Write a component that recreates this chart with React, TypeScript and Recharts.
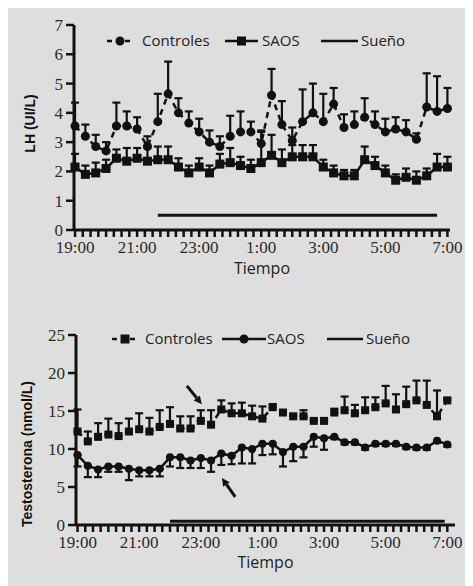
import React from "react";
import { LineChart, Line, XAxis, YAxis, ErrorBar, Legend, ReferenceLine } from "recharts";

// minutes after 19:00, one sample every 20 min
const times = [0, 20, 40, 60, 80, 100, 120, 140, 160, 180, 200, 220, 240, 260, 280, 300, 320, 340, 360, 380, 400, 420, 440, 460, 480, 500, 520, 540, 560, 580, 600, 620, 640, 660, 680, 700, 720];

const minorTicks = [0, 15, 30, 45, 60, 75, 90, 105, 120, 135, 150, 165, 180, 195, 210, 225, 240, 255, 270, 285, 300, 315, 330, 345, 360, 375, 390, 405, 420, 435, 450, 465, 480, 495, 510, 525, 540, 555, 570, 585, 600, 615, 630, 645, 660, 675, 690, 705, 720];
const labelTicks = [0, 120, 240, 360, 480, 600, 720];
const tickLabels = ["19:00", "21:00", "23:00", "1:00", "3:00", "5:00", "7:00"];

const lhTicks = [0, 1, 2, 3, 4, 5, 6, 7];
const testoTicks = [0, 5, 10, 15, 20, 25];

const lhControles = [3.55, 3.2, 2.85, 2.7, 3.55, 3.55, 3.45, 2.85, 3.7, 4.65, 4.0, 3.65, 3.35, 3.0, 2.85, 3.2, 3.35, 3.35, 2.95, 4.6, 3.6, 3.05, 3.7, 4.0, 3.7, 4.3, 3.5, 3.6, 3.85, 3.6, 3.35, 3.45, 3.35, 3.1, 4.2, 4.05, 4.15];
const lhControlesErr = [0.8, 0.4, 0.4, 0.3, 0.8, 0.5, 0.4, 0.35, 0.95, 1.1, 0.5, 0.4, 0.45, 0.4, 0.35, 0.7, 0.7, 0.35, 0.4, 0.9, 0.8, 0.45, 1.1, 1.0, 0.95, 0.55, 0.45, 0.45, 0.65, 0.45, 0.45, 0.4, 0.4, 0.2, 1.15, 1.2, 0.7];
const lhSaos = [2.15, 1.9, 1.95, 2.1, 2.45, 2.35, 2.45, 2.35, 2.4, 2.4, 2.15, 1.95, 2.15, 1.95, 2.25, 2.3, 2.2, 2.1, 2.3, 2.55, 2.3, 2.5, 2.5, 2.5, 2.15, 1.95, 1.85, 1.85, 2.4, 2.2, 1.95, 1.7, 1.8, 1.7, 1.85, 2.15, 2.15];
const lhSaosErr = [0.45, 0.3, 0.35, 0.3, 0.3, 0.45, 0.35, 0.45, 0.45, 0.45, 0.3, 0.25, 0.3, 0.25, 0.35, 0.5, 0.3, 0.3, 1.1, 0.7, 0.45, 0.4, 0.4, 0.4, 0.25, 0.25, 0.2, 0.2, 0.45, 0.3, 0.25, 0.2, 0.3, 0.3, 0.25, 0.45, 0.35];

const testoControles = [12.3, 11.0, 11.6, 11.9, 11.7, 12.3, 12.6, 12.3, 12.9, 13.3, 12.7, 12.7, 13.7, 13.2, 15.2, 14.7, 14.7, 14.3, 14.0, 15.5, 14.8, 14.3, 14.3, 13.7, 13.7, 14.8, 15.1, 14.7, 15.1, 15.5, 16.0, 15.2, 15.9, 16.4, 15.8, 14.3, 16.4];
const testoControlesErr = [2.9, 1.3, 1.8, 2.1, 1.7, 1.7, 2.1, 1.8, 2.2, 2.2, 1.6, 1.6, 1.4, 1.9, 1.2, 1.3, 1.4, 1.4, 1.6, 0.4, 0.3, 0.3, 0.8, 0.3, 0.3, 0.5, 1.8, 1.1, 1.7, 1.3, 2.3, 2.0, 2.3, 2.6, 3.2, 3.4, 0.3];
const testoSaos = [9.2, 7.8, 7.3, 7.7, 7.7, 7.4, 7.2, 7.2, 7.4, 8.9, 8.9, 8.5, 8.8, 8.5, 9.4, 9.1, 10.2, 10.0, 10.7, 10.7, 9.6, 10.3, 10.3, 11.6, 11.4, 11.6, 10.9, 10.9, 10.2, 10.7, 10.7, 10.7, 10.3, 10.2, 10.2, 11.1, 10.6];
const testoSaosErr = [1.5, 1.5, 1.0, 0.7, 0.7, 1.5, 0.8, 0.8, 1.0, 1.2, 1.4, 1.0, 1.3, 1.5, 1.5, 1.1, 2.1, 1.9, 1.5, 1.4, 1.9, 1.9, 1.4, 1.3, 1.5, 0.3, 0.3, 0.3, 0.3, 0.3, 0.3, 0.3, 0.3, 0.3, 0.3, 0.3, 0.3];

// sleep period bar
const suenoLh = [{ t: 160, y: 0.5 }, { t: 700, y: 0.5 }];
const suenoTesto = [{ t: 180, y: 0.5 }, { t: 715, y: 0.5 }];

// arrows in testosterone panel: [tail, head]
const arrowCtrl = [{ x: 213, y: 18.3 }, { x: 242, y: 15.9 }];
const arrowSaos = [{ x: 307, y: 3.7 }, { x: 281, y: 6.2 }];

const lhRows = times.map((t, i) => ({
  t,
  ctrl: lhControles[i],
  ctrlErr: [0, lhControlesErr[i]],
  saos: lhSaos[i],
  saosErr: [0, lhSaosErr[i]],
}));

const testoRows = times.map((t, i) => ({
  t,
  ctrl: testoControles[i],
  ctrlErr: [0, testoControlesErr[i]],
  saos: testoSaos[i],
  saosErr: [testoSaosErr[i], 0],
}));

const SANS = "'Open Sans', sans-serif";
const SERIF = "'Liberation Serif', serif";
const INK = "#111";
const BG = "#dedede";

const fmtTime = (t: number) => {
  const i = labelTicks.indexOf(t);
  return i >= 0 ? tickLabels[i] : "";
};

const circleDot = (r: number) => (p: any) =>
  p.cx == null ? null : <circle key={`c${p.index}`} cx={p.cx} cy={p.cy} r={r} fill={INK} />;

const squareDot = (s: number) => (p: any) =>
  p.cx == null ? null : (
    <rect key={`s${p.index}`} x={p.cx - s / 2} y={p.cy - s / 2} width={s} height={s} fill={INK} />
  );

const Arrow = (p: any) => {
  const { x1, y1, x2, y2 } = p;
  const a = Math.atan2(y2 - y1, x2 - x1);
  const L = 8;
  const W = 4;
  const bx = x2 - L * Math.cos(a);
  const by = y2 - L * Math.sin(a);
  const pts = [
    `${x2},${y2}`,
    `${bx + W * Math.sin(a)},${by - W * Math.cos(a)}`,
    `${bx - W * Math.sin(a)},${by + W * Math.cos(a)}`,
  ].join(" ");
  return (
    <g>
      <line x1={x1} y1={y1} x2={bx} y2={by} stroke={INK} strokeWidth={3} />
      <polygon points={pts} fill={INK} />
    </g>
  );
};

const Marker = ({ kind, dashed, w }: { kind: string; dashed: boolean; w: number }) => (
  <svg width={w} height={14} style={{ display: "block" }}>
    <line x1={0} y1={7} x2={w} y2={7} stroke={INK} strokeWidth={2.5} strokeDasharray={dashed ? "5 4" : undefined} />
    {kind === "circle" && <circle cx={w / 2} cy={7} r={4.5} fill={INK} />}
    {kind === "square" && <rect x={w / 2 - 4.5} y={2.5} width={9} height={9} fill={INK} />}
  </svg>
);

type LegendItem = { name: string; kind: string; dashed: boolean; mx: number; mw: number; tx: number };

const makeLegend = (items: LegendItem[]) => () => (
  <div style={{ position: "relative", width: 320, height: 18, fontFamily: SANS, fontSize: 15, color: "#222" }}>
    {items.map((it) => (
      <React.Fragment key={it.name}>
        <div style={{ position: "absolute", left: it.mx, top: 2 }}>
          <Marker kind={it.kind} dashed={it.dashed} w={it.mw} />
        </div>
        <div style={{ position: "absolute", left: it.tx, top: -2, whiteSpace: "nowrap" }}>{it.name}</div>
      </React.Fragment>
    ))}
  </div>
);

const lhLegend: LegendItem[] = [
  { name: "Controles", kind: "circle", dashed: true, mx: 0, mw: 26, tx: 35 },
  { name: "SAOS", kind: "square", dashed: false, mx: 118, mw: 33, tx: 155 },
  { name: "Sueño", kind: "none", dashed: false, mx: 214, mw: 37, tx: 254 },
];
const testoLegend: LegendItem[] = [
  { name: "Controles", kind: "square", dashed: true, mx: 0, mw: 26, tx: 33 },
  { name: "SAOS", kind: "circle", dashed: false, mx: 110, mw: 44, tx: 155 },
  { name: "Sueño", kind: "none", dashed: false, mx: 215, mw: 36, tx: 254 },
];

const yTitle = (text: string, dx: number, dy: number) => (p: any) => {
  const vb = p.viewBox;
  const x = vb.x + dx;
  const y = vb.y + vb.height / 2 + dy;
  return (
    <text
      x={x}
      y={y}
      transform={`rotate(-90, ${x}, ${y})`}
      textAnchor="middle"
      dominantBaseline="central"
      fontFamily="'Liberation Sans', sans-serif"
      fontWeight="bold"
      fontSize={14}
      fill={INK}
    >
      {text}
    </text>
  );
};

const axisLine = { stroke: INK, strokeWidth: 3 };
const tickLine = { stroke: INK, strokeWidth: 2.5 };
const tickFont = { fontSize: 17, fill: "#2a2a2a", fontFamily: SERIF };

export default function App() {
  return (
    <div style={{ width: 465, height: 578, background: BG }}>
      <LineChart width={465} height={290} data={lhRows} margin={{ top: 17, right: 23, bottom: 38, left: 0 }}>
        <XAxis
          dataKey="t"
          type="number"
          domain={[-2, 725]}
          ticks={minorTicks}
          interval={0}
          tickFormatter={fmtTime}
          tickSize={7}
          tickMargin={4}
          height={30}
          axisLine={axisLine}
          tickLine={tickLine}
          tick={tickFont}
          label={{ value: "Tiempo", position: "bottom", offset: 3, fontSize: 16, fontFamily: SANS, fill: "#222" }}
        />
        <YAxis
          domain={[0, 7]}
          ticks={lhTicks}
          interval={0}
          width={66}
          tickSize={8}
          tickMargin={3}
          axisLine={axisLine}
          tickLine={tickLine}
          tick={tickFont}
          label={{ content: yTitle("LH (UI/L)", 22, -4) }}
        />
        <Legend
          verticalAlign="middle"
          align="center"
          layout="horizontal"
          wrapperStyle={{ top: 24, left: 99, width: 320 }}
          content={makeLegend(lhLegend)}
        />
        <Line
          dataKey="ctrl"
          name="Controles"
          stroke={INK}
          strokeWidth={2.5}
          strokeDasharray="6 5"
          dot={circleDot(4.5)}
          activeDot={false}
          isAnimationActive={false}
        >
          <ErrorBar dataKey="ctrlErr" direction="y" width={4} strokeWidth={2.2} stroke={INK} isAnimationActive={false} />
        </Line>
        <Line
          dataKey="saos"
          name="SAOS"
          stroke={INK}
          strokeWidth={2.5}
          dot={squareDot(9)}
          activeDot={false}
          isAnimationActive={false}
        >
          <ErrorBar dataKey="saosErr" direction="y" width={4} strokeWidth={2.2} stroke={INK} isAnimationActive={false} />
        </Line>
        <Line data={suenoLh} dataKey="y" name="Sueño" stroke={INK} strokeWidth={3} dot={false} activeDot={false} isAnimationActive={false} />
      </LineChart>

      <LineChart width={465} height={288} data={testoRows} margin={{ top: 37, right: 18, bottom: 31, left: 0 }}>
        <XAxis
          dataKey="t"
          type="number"
          domain={[-3, 735]}
          ticks={minorTicks}
          interval={0}
          tickFormatter={fmtTime}
          tickSize={7}
          tickMargin={4}
          height={30}
          axisLine={axisLine}
          tickLine={tickLine}
          tick={tickFont}
          label={{ value: "Tiempo", position: "bottom", offset: 2, fontSize: 16, fontFamily: SANS, fill: "#222" }}
        />
        <YAxis
          domain={[0, 25]}
          ticks={testoTicks}
          interval={0}
          width={68}
          tickSize={8}
          tickMargin={3}
          axisLine={axisLine}
          tickLine={tickLine}
          tick={tickFont}
          label={{ content: yTitle("Testosterona (nmol/L)", 19, 24) }}
        />
        <Legend
          verticalAlign="middle"
          align="center"
          layout="horizontal"
          wrapperStyle={{ top: 32, left: 104, width: 320 }}
          content={makeLegend(testoLegend)}
        />
        <Line
          dataKey="ctrl"
          name="Controles"
          stroke={INK}
          strokeWidth={2.5}
          strokeDasharray="6 5"
          dot={squareDot(8)}
          activeDot={false}
          isAnimationActive={false}
        >
          <ErrorBar dataKey="ctrlErr" direction="y" width={4} strokeWidth={2.2} stroke={INK} isAnimationActive={false} />
        </Line>
        <Line
          dataKey="saos"
          name="SAOS"
          stroke={INK}
          strokeWidth={2.5}
          dot={circleDot(4)}
          activeDot={false}
          isAnimationActive={false}
        >
          <ErrorBar dataKey="saosErr" direction="y" width={4} strokeWidth={2.2} stroke={INK} isAnimationActive={false} />
        </Line>
        <Line data={suenoTesto} dataKey="y" name="Sueño" stroke={INK} strokeWidth={3} dot={false} activeDot={false} isAnimationActive={false} />
        <ReferenceLine segment={arrowCtrl} shape={Arrow} ifOverflow="visible" />
        <ReferenceLine segment={arrowSaos} shape={Arrow} ifOverflow="visible" />
      </LineChart>
    </div>
  );
}
